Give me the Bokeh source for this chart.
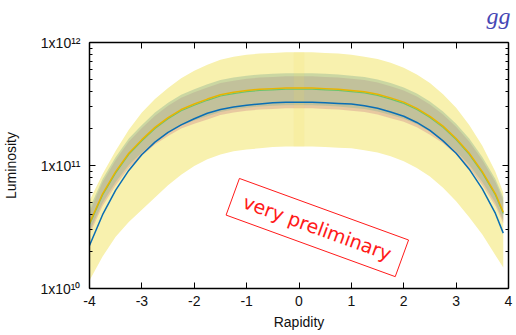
import numpy as np
from bokeh.plotting import figure
from bokeh.models import LogAxis, LinearAxis, FixedTicker, Range1d, CustomJSTickFormatter
from bokeh.embed import file_html
from bokeh.resources import INLINE
from bokeh.core.properties import value

# ---------------- data (luminosity given as log10 values) ----------------
rapidity = [-4.0, -3.75, -3.5, -3.25, -3.0, -2.75, -2.5, -2.25, -2.0, -1.75, -1.5,
            -1.25, -1.0, -0.75, -0.5, -0.25, 0.0, 0.25, 0.5, 0.75, 1.0, 1.25, 1.5,
            1.75, 2.0, 2.25, 2.5, 2.75, 3.0, 3.25, 3.5, 3.75, 3.9]

blue_log10 = [10.35, 10.60, 10.80, 10.96, 11.09, 11.19, 11.27, 11.33, 11.38, 11.425, 11.455,
              11.475, 11.49, 11.50, 11.51, 11.515, 11.515, 11.515, 11.51, 11.505, 11.50, 11.485,
              11.465, 11.435, 11.40, 11.35, 11.285, 11.20, 11.10, 10.97, 10.81, 10.61, 10.45]
orange_log10 = [10.53, 10.77, 10.95, 11.10, 11.21, 11.31, 11.39, 11.455, 11.50, 11.54, 11.575,
                11.595, 11.61, 11.62, 11.625, 11.63, 11.63, 11.63, 11.625, 11.62, 11.61, 11.60,
                11.58, 11.55, 11.515, 11.465, 11.40, 11.32, 11.22, 11.10, 10.95, 10.77, 10.62]
green_log10 = [10.52, 10.76, 10.94, 11.09, 11.20, 11.30, 11.38, 11.445, 11.49, 11.53, 11.565,
               11.585, 11.60, 11.61, 11.615, 11.62, 11.62, 11.62, 11.615, 11.61, 11.60, 11.59,
               11.57, 11.54, 11.505, 11.455, 11.39, 11.31, 11.21, 11.09, 10.94, 10.76, 10.61]

pink_lo_log10 = [10.44, 10.67, 10.84, 10.98, 11.08, 11.17, 11.24, 11.30, 11.34, 11.375, 11.41,
                 11.43, 11.445, 11.455, 11.46, 11.465, 11.465, 11.465, 11.46, 11.455, 11.445, 11.435,
                 11.415, 11.385, 11.355, 11.31, 11.25, 11.18, 11.09, 10.98, 10.84, 10.67, 10.53]
pink_hi_log10 = [10.625, 10.865, 11.045, 11.195, 11.305, 11.405, 11.485, 11.55, 11.595, 11.635, 11.67,
                 11.69, 11.705, 11.715, 11.72, 11.725, 11.725, 11.725, 11.72, 11.715, 11.705, 11.695,
                 11.675, 11.645, 11.61, 11.56, 11.495, 11.415, 11.315, 11.195, 11.045, 10.865, 10.715]
green_lo_log10 = [10.465, 10.695, 10.865, 11.005, 11.105, 11.195, 11.265, 11.325, 11.365, 11.40, 11.435,
                  11.455, 11.47, 11.48, 11.485, 11.49, 11.49, 11.49, 11.485, 11.48, 11.47, 11.46,
                  11.44, 11.41, 11.38, 11.335, 11.275, 11.205, 11.115, 11.005, 10.865, 10.695, 10.555]
green_hi_log10 = [10.65, 10.89, 11.07, 11.22, 11.33, 11.43, 11.51, 11.575, 11.62, 11.66, 11.695,
                  11.715, 11.73, 11.74, 11.745, 11.75, 11.75, 11.75, 11.745, 11.74, 11.73, 11.72,
                  11.70, 11.67, 11.635, 11.585, 11.52, 11.44, 11.34, 11.22, 11.07, 10.89, 10.74]
yellow_hi_log10 = [10.715, 10.93, 11.12, 11.29, 11.43, 11.54, 11.63, 11.71, 11.77, 11.82, 11.86,
                   11.885, 11.90, 11.91, 11.915, 11.92, 11.92, 11.92, 11.915, 11.91, 11.90, 11.885,
                   11.865, 11.835, 11.795, 11.74, 11.67, 11.58, 11.47, 11.33, 11.16, 10.95, 10.78]
yellow_lo_log10 = [10.065, 10.26, 10.42, 10.54, 10.64, 10.74, 10.84, 10.925, 10.995, 11.05, 11.09,
                   11.115, 11.13, 11.14, 11.15, 11.154, 11.155, 11.155, 11.15, 11.145, 11.14, 11.125,
                   11.105, 11.075, 11.035, 10.98, 10.91, 10.82, 10.71, 10.58, 10.44, 10.27, 10.17]

stripe_x = [-0.1, 0.1]
stripe_hi_log10 = [11.92, 11.92]
stripe_lo_log10 = [11.155, 11.155]

x_ticks = [-4, -3, -2, -1, 0, 1, 2, 3, 4]
x_tick_labels = ["-4", "-3", "-2", "-1", "0", "1", "2", "3", "4"]
y_ticks = [1e10, 1e11, 1e12]
y_tick_labels = ["1x10\u00b9\u2070", "1x10\u00b9\u00b9", "1x10\u00b9\u00b2"]
y_minor = [k * 1e10 for k in range(2, 10)] + [k * 1e11 for k in range(2, 10)]

stamp_text = "very preliminary"
channel_text = "gg"


def lum(a):
    return [10.0 ** v for v in a]


FONT = "Liberation Sans"
TXT = "#111111"

p = figure(width=516, height=335, x_range=Range1d(-4, 4), y_range=Range1d(1e10, 1e12),
           y_axis_type="log", output_backend="svg", toolbar_location=None,
           min_border_left=89, min_border_right=8, min_border_top=42, min_border_bottom=47)
p.background_fill_color = "white"
p.border_fill_color = "white"
p.outline_line_color = None
p.xgrid.visible = False
p.ygrid.visible = False

# title "gg"
p.title.text = channel_text
p.title.align = "right"
p.title.vertical_align = "bottom"
p.title.text_font = "Liberation Serif"
p.title.text_font_style = "italic"
p.title.text_font_size = "24px"
p.title.text_color = "#4646b4"
p.title.standoff = 0
p.title.offset = -2

# bands
p.varea(x=rapidity, y1=lum(yellow_lo_log10), y2=lum(yellow_hi_log10),
        fill_color="#f8f1ae", fill_alpha=1.0)
p.varea(x=rapidity, y1=lum(pink_lo_log10), y2=lum(pink_hi_log10),
        fill_color="#d49a90", fill_alpha=0.45)
p.varea(x=rapidity, y1=lum(green_lo_log10), y2=lum(green_hi_log10),
        fill_color="#94b894", fill_alpha=0.45)
p.varea(x=stripe_x, y1=lum(stripe_lo_log10), y2=lum(stripe_hi_log10),
        fill_color="#efe060", fill_alpha=0.15)

# lines
p.line(rapidity, lum(green_log10), line_color="#6cc46c", line_width=1.2)
p.line(rapidity, lum(orange_log10), line_color="#e8b400", line_width=1.5)
p.line(rapidity, lum(blue_log10), line_color="#0a6eb4", line_width=1.5)

# stamp
stamp_x = 0.35
stamp_y = 3.13e10
p.rect(x=[stamp_x], y=[stamp_y], width=[180], height=[39], width_units="screen",
       height_units="screen", angle=-20, angle_units="deg", fill_color=None,
       line_color="#ff1a1a", line_width=1)
p.text(x=[stamp_x], y=[stamp_y], text=[stamp_text], angle=-20, angle_units="deg",
       text_align="center", text_baseline="middle", text_color="#ff1a1a",
       text_font=value("DejaVu Sans"), text_font_size=value("19px"))

empty_fmt = CustomJSTickFormatter(code="return '';")


def label_fmt(tick_values, tick_texts):
    return CustomJSTickFormatter(args=dict(tv=tick_values, tt=tick_texts), code="""
        for (let i = 0; i < tv.length; i++) {
            if (Math.abs(tick - tv[i]) <= 1e-6 * Math.max(1, Math.abs(tv[i]))) return tt[i];
        }
        return '';
    """)


def style_axis(ax, labels=True):
    ax.axis_line_color = "black"
    ax.axis_line_width = 1.5
    ax.major_tick_line_color = "black"
    ax.minor_tick_line_color = "black"
    ax.major_tick_in = 6
    ax.major_tick_out = 0
    ax.minor_tick_in = 3
    ax.minor_tick_out = 0
    if not labels:
        ax.formatter = empty_fmt
        ax.major_label_text_color = None
        ax.major_label_standoff = 0


xa = p.xaxis[0]
xa.ticker = FixedTicker(ticks=x_ticks)
style_axis(xa)
xa.formatter = label_fmt(x_ticks, x_tick_labels)
xa.minor_tick_line_color = None
xa.major_label_text_font = FONT
xa.major_label_text_font_size = "14px"
xa.major_label_text_color = TXT
xa.major_label_standoff = 7
xa.axis_label = "Rapidity"
xa.axis_label_text_font = FONT
xa.axis_label_text_font_size = "14px"
xa.axis_label_text_font_style = "normal"
xa.axis_label_text_color = TXT
xa.axis_label_standoff = 5

ya = p.yaxis[0]
ya.ticker = FixedTicker(ticks=y_ticks, minor_ticks=y_minor)
style_axis(ya)
ya.formatter = label_fmt(y_ticks, y_tick_labels)
ya.major_label_text_font = FONT
ya.major_label_text_font_size = "14px"
ya.major_label_text_color = TXT
ya.major_label_standoff = 9
ya.axis_label = "Luminosity"
ya.axis_label_text_font = FONT
ya.axis_label_text_font_size = "14px"
ya.axis_label_text_font_style = "normal"
ya.axis_label_text_color = TXT
ya.axis_label_standoff = 18

top = LinearAxis(ticker=FixedTicker(ticks=x_ticks))
style_axis(top, labels=False)
top.minor_tick_line_color = None
# an invisible spacer label lifts the "gg" title above the frame
top.axis_label = " "
top.axis_label_text_color = None
top.axis_label_text_font_size = "10px"
top.axis_label_standoff = 0
p.add_layout(top, "above")

right = LogAxis(ticker=FixedTicker(ticks=y_ticks, minor_ticks=y_minor))
style_axis(right, labels=False)
p.add_layout(right, "right")

open("out.html", "w").write(file_html(p, INLINE))
